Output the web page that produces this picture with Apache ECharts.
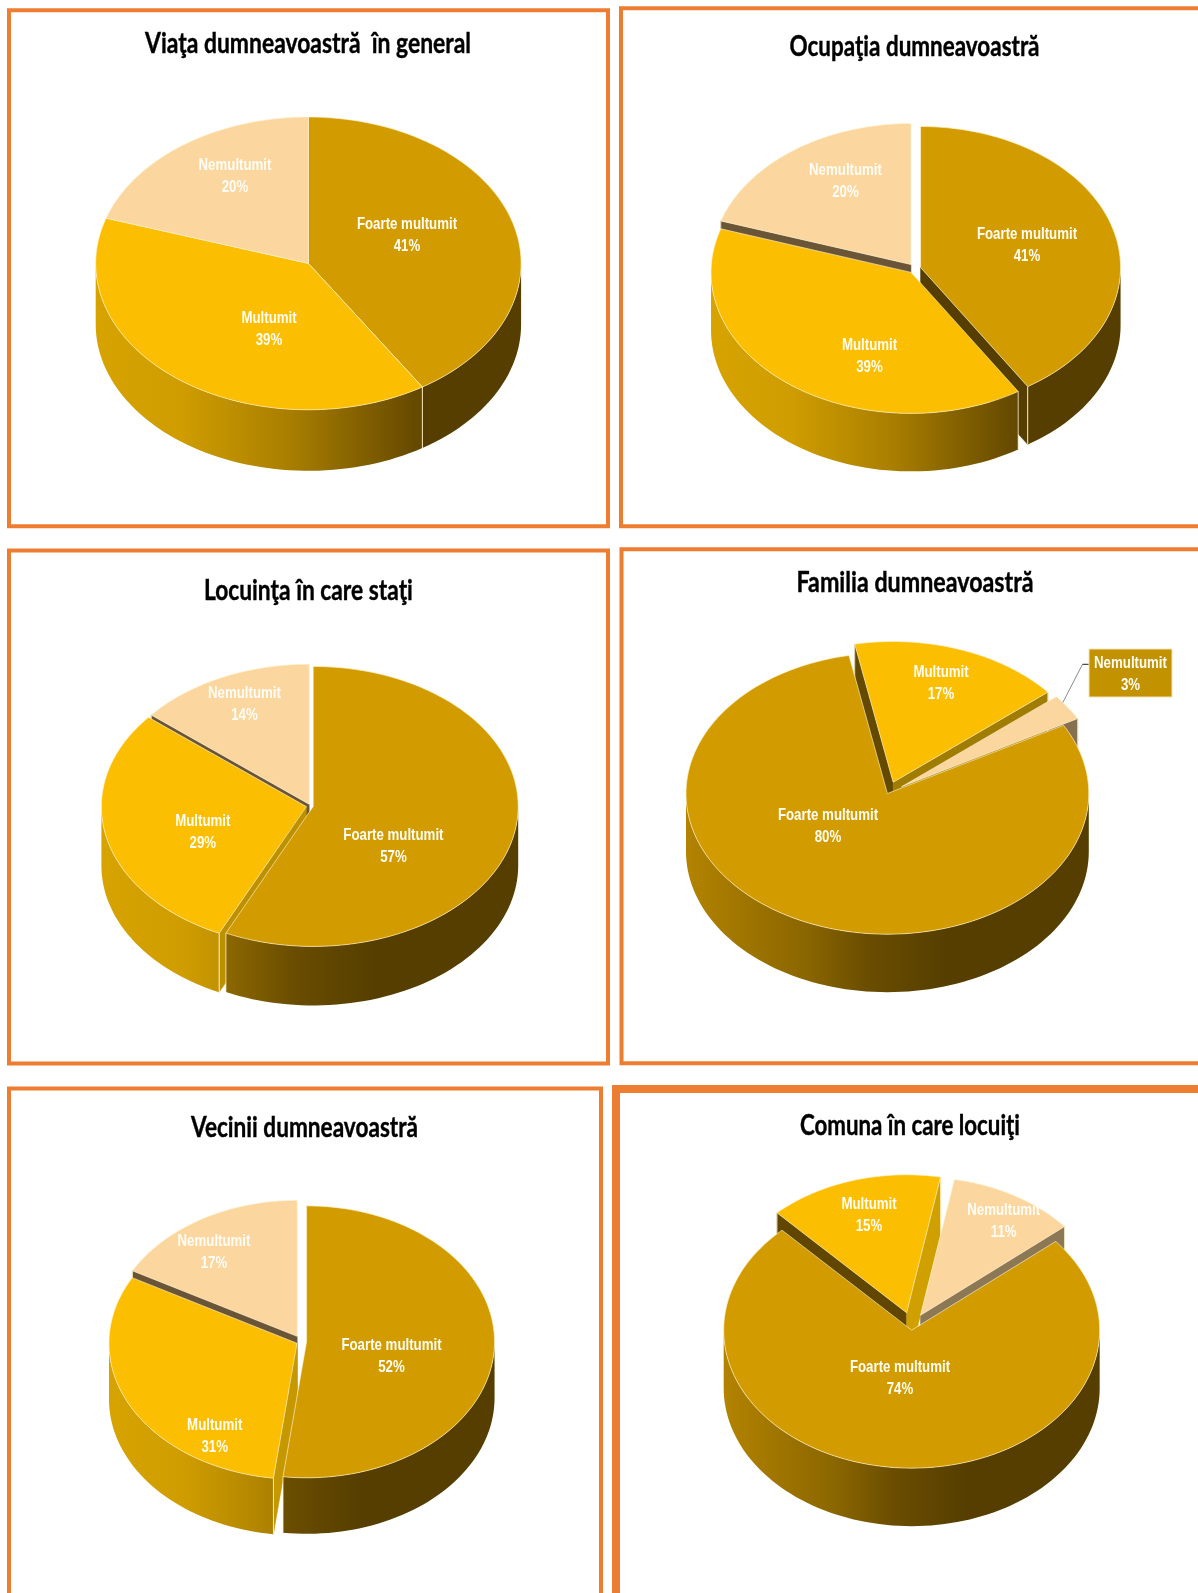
<!DOCTYPE html>
<html>
<head>
<meta charset="utf-8">
<style>html,body{margin:0;padding:0;background:#fff}#c{width:1198px;height:1593px}</style>
<script src="https://cdn.jsdelivr.net/npm/echarts@6/dist/echarts.min.js"></script>
</head>
<body>
<div id="c"></div>
<script>
// ---- data ----
const categories = ['Foarte multumit', 'Multumit', 'Nemultumit'];
const chartTitles = ['Viaţa dumneavoastră  în general', 'Ocupaţia dumneavoastră', 'Locuinţa în care staţi',
  'Familia dumneavoastră', 'Vecinii dumneavoastră', 'Comuna în care locuiţi'];
const viataValues = [41, 39, 20];
const ocupatiaValues = [41, 39, 20];
const locuintaValues = [57, 29, 14];
const familiaValues = [80, 17, 3];
const veciniiValues = [52, 31, 17];
const comunaValues = [74, 15, 11];
const allValues = [viataValues, ocupatiaValues, locuintaValues, familiaValues, veciniiValues, comunaValues];

// ---- layout and style ----
const TOP = ['#d29c00', '#fbbe00', '#fbd69e'];
const WALL = [
  [[0, '#b38300'], [0.3, '#8a6600'], [0.45, '#6a4d00'], [0.65, '#553e00'], [1, '#553e00']],
  [[0, '#d6a300'], [0.2, '#cf9d00'], [0.45, '#aa7f00'], [0.75, '#664a00'], [1, '#553e00']],
  [[0, '#8d7856'], [1, '#6b5537']]
];
const PALE = 'rgba(255,243,205,0.8)';
const panels = [
  { c: [308.4, 263.4], r: [212.7, 146.4], d: 61, start: 0, k: [0, 0, 0], faces: [[null, null], [null, null], [null, null]],
    title: [308, 44, 326], frame: [9, 10.3, 599, 516, 4],
    labels: [[407, 235], [269, 329], [235, 176]] },
  { c: [915.2, 268.6], r: [200, 141], d: 58, start: 0, k: [0.028, 0.034, 0.036], faces: [[null, '#553e00'], [null, null], ['#6b5537', null]],
    title: [914.5, 46.8, 250], frame: [621, 8.2, 700, 518, 4],
    labels: [[1027, 245], [869.5, 356], [845.5, 181.6]] },
  { c: [310.4, 806], r: [205, 140], d: 59, start: 0, k: [0.014, 0.02, 0.014], faces: [[null, null], ['#bd9000', null], ['#6b5537', null]],
    title: [308.4, 591, 209], frame: [9, 550.5, 599, 513, 4],
    labels: [[393.4, 846], [202.8, 832], [244.4, 704]] },
  { c: [887.4, 793.5], r: [201.4, 140.7], d: 58, start: 61, k: [0, 0.085, 0.085], faces: [[null, null], ['#634a00', '#a07c00'], [null, '#857050']],
    title: [915, 583, 237], frame: [621.5, 549.3, 700, 514, 4],
    labels: [[828, 826.7], [941, 683], [1130.5, 674]], boxed: 2, leaderAt: 0.28 },
  { c: [301.5, 1341.6], r: [188, 136], d: 56, start: 0, k: [0.027, 0.027, 0.045], faces: [[null, null], ['#c69800', null], ['#6b5537', null]],
    title: [304.5, 1127.7, 227], frame: [9, 1088.5, 592, 600, 4],
    labels: [[391.5, 1356.7], [214.7, 1436.6], [214, 1252.6]] },
  { c: [912, 1326], r: [188, 138], d: 58, start: 50, k: [0.03, 0.1, 0.09], faces: [[null, null], ['#614600', '#cfa000'], [null, '#8d7856']],
    title: [910, 1126, 220], frame: [616, 1089, 700, 600, 8],
    labels: [[900, 1378], [869, 1215.4], [1003.7, 1221]] }
];
const LABEL_FONT = 'bold 17px "Liberation Sans", sans-serif';
const LABEL_SCALE = 0.78;
const TITLE_FONT = 'bold 29px Lato, sans-serif';
const RAD = Math.PI / 180;
const measureCtx = document.createElement('canvas').getContext('2d');
function fitScale(text, font, width) {
  measureCtx.font = font;
  return width / measureCtx.measureText(text).width;
}

function renderSlice(panel, values, params, api) {
  const i = params.dataIndex;
  const value = api.value(0);
  const total = values.reduce((a, b) => a + b, 0);
  const before = values.slice(0, i).reduce((a, b) => a + b, 0);
  const a0 = panel.start + before / total * 360;
  const a1 = a0 + value / total * 360;
  const mid = (a0 + a1) / 2 * RAD;
  const [rx, ry] = panel.r;
  const cx = panel.c[0] + panel.k[i] * rx * Math.sin(mid);
  const cy = panel.c[1] - panel.k[i] * ry * Math.cos(mid);
  const pt = (deg, dz) => [cx + rx * Math.sin(deg * RAD), cy - ry * Math.cos(deg * RAD) + (dz || 0)];
  const arc = (from, to, dz) => {
    const n = Math.max(2, Math.ceil(Math.abs(to - from) / 2));
    const out = [];
    for (let t = 0; t <= n; t++) out.push(pt(from + (to - from) * t / n, dz));
    return out;
  };
  const children = [];
  // radial cut faces: nearer slices paint over farther ones
  const faceZ = 1 + (2 - i) * 0.1;
  const faceAt = (deg, color) => {
    if (!color) return;
    const e = pt(deg);
    const f = pt(deg, panel.d);
    children.push({ type: 'polygon', z2: faceZ, silent: true,
      shape: { points: [[cx, cy], e, f, [cx, cy + panel.d]] },
      style: { fill: color, stroke: color, lineWidth: 0.5 } });
    children.push({ type: 'polyline', z2: faceZ, silent: true, shape: { points: [e, f] },
      style: { fill: null, stroke: PALE, lineWidth: 1 } });
  };
  faceAt(a0, panel.faces[i][0]);
  faceAt(a1, panel.faces[i][1]);
  // outer wall, front half only
  const w0 = Math.max(a0, 90), w1 = Math.min(a1, 270);
  if (w1 > w0) {
    children.push({ type: 'polygon', z2: 2, silent: true,
      shape: { points: arc(w0, w1, 0).concat(arc(w1, w0, panel.d)) },
      style: { fill: new echarts.graphic.LinearGradient(cx - rx, 0, cx + rx, 0,
        WALL[i].map(s => ({ offset: s[0], color: s[1] })), true) } });
    [[w0, w0 > 90], [w1, w1 < 270]].forEach(([deg, show]) => {
      if (show) children.push({ type: 'polyline', z2: 2, silent: true,
        shape: { points: [pt(deg), pt(deg, panel.d)] },
        style: { fill: null, stroke: PALE, lineWidth: 1 } });
    });
  }
  // top face
  children.push({ type: 'polygon', z2: 3, silent: true,
    shape: { points: [[cx, cy]].concat(arc(a0, a1, 0)) },
    style: { fill: TOP[i], stroke: PALE, lineWidth: 0.8 } });
  // label
  const [lx, ly] = panel.labels[i];
  if (panel.boxed === i) {
    const start = pt(a0 + (a1 - a0) * panel.leaderAt);
    const bx = lx - 41.5, by = ly - 25;
    const knee = [bx - 6.5, ly - 9.7];
    children.push({ type: 'polyline', z2: 4, silent: true, shape: { points: [start, knee] },
      style: { fill: null, stroke: '#8a8a8a', lineWidth: 1 } });
    children.push({ type: 'polyline', z2: 4, silent: true, shape: { points: [knee, [bx, ly - 9.7]] },
      style: { fill: null, stroke: '#222', lineWidth: 1 } });
    children.push({ type: 'rect', z2: 4, silent: true, shape: { x: bx, y: by, width: 83, height: 48 },
      style: { fill: '#c29200', stroke: '#f3e3b4', lineWidth: 1 } });
  }
  children.push({ type: 'text', z2: 5, silent: true, x: lx, y: ly, scaleX: LABEL_SCALE,
    style: { x: 0, y: 0, text: categories[i] + '\n' + value + '%', fill: '#fffdf6',
      font: LABEL_FONT, align: 'center', verticalAlign: 'middle', lineHeight: 22 } });
  return { type: 'group', children };
}

const chart = echarts.init(document.getElementById('c'), null, { renderer: 'canvas' });
chart.setOption({
  animation: false,
  backgroundColor: '#ffffff',
  graphic: panels.map(p => ({
    type: 'rect', z: -1, silent: true,
    shape: { x: p.frame[0], y: p.frame[1], width: p.frame[2], height: p.frame[3] },
    style: { fill: '#fff', stroke: '#ed7d31', lineWidth: p.frame[4] }
  })).concat(panels.map((p, idx) => ({
    type: 'text', z: 5, silent: true, x: p.title[0], y: p.title[1],
    scaleX: fitScale(chartTitles[idx], TITLE_FONT, p.title[2]),
    style: { x: 0, y: 0, text: chartTitles[idx], font: TITLE_FONT, fill: '#000', stroke: '#000', lineWidth: 0.4, align: 'center', verticalAlign: 'middle' }
  }))),
  series: panels.map((p, idx) => ({
    type: 'custom',
    coordinateSystem: 'none',
    silent: true,
    clip: false,
    data: allValues[idx].map((v, i) => ({ name: categories[i], value: [v] })),
    renderItem: (params, api) => renderSlice(p, allValues[idx], params, api)
  }))
});
</script>
</body>
</html>
